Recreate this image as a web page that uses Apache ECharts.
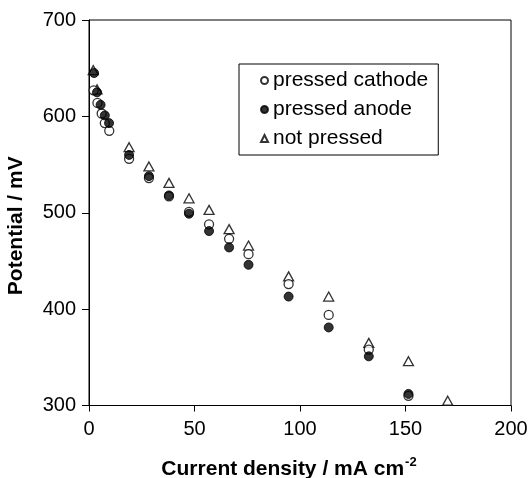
<!DOCTYPE html>
<html>
<head>
<meta charset="utf-8">
<script src="https://cdn.jsdelivr.net/npm/echarts@6/dist/echarts.min.js"></script>
<style>html,body{margin:0;padding:0;background:#fff}#c{width:528px;height:478px}</style>
</head>
<body>
<div id="c"></div>
<script>
var seriesNames = ['pressed cathode', 'pressed anode', 'not pressed'];
var xTicks = [0, 50, 100, 150, 200];
var yTicks = [300, 400, 500, 600, 700];

var cathodeX = [2.2, 4, 6, 7.5, 9.6, 19, 28.4, 37.9, 47.4, 56.9, 66.4, 75.6, 94.6, 113.6, 132.6, 151.4];
var cathodeY = [627, 614, 603, 593, 585, 556, 536, 517, 501, 488, 473, 457, 426, 394, 358, 310];
var anodeX = [2.4, 3.8, 5.5, 7.5, 9.5, 19, 28.4, 37.9, 47.4, 56.9, 66.4, 75.6, 94.6, 113.6, 132.6, 151.4];
var anodeY = [645, 625, 612, 601, 593, 560, 538, 518, 499, 481, 464, 446, 413, 381, 351, 312];
var notPressedX = [2, 3.8, 19, 28.4, 37.9, 47.4, 56.9, 66.4, 75.6, 94.6, 113.6, 132.6, 151.4, 170];
var notPressedY = [648, 628, 568, 548, 531, 515, 503, 483, 466, 434, 413, 365, 346, 305];

function pairs(xs, ys) { return xs.map(function (x, i) { return [x, ys[i]]; }); }

var FONT = 'Liberation Sans, Arial, sans-serif';
var chart = echarts.init(document.getElementById('c'), null, {renderer: 'canvas'});
chart.setOption({
  animation: false,
  backgroundColor: '#fff',
  grid: {left: 89, right: 17, top: 20, bottom: 72.5, show: true, borderColor: '#000', borderWidth: 1,
    containLabel: false, outerBoundsMode: 'none'},
  legend: {
    orient: 'vertical', left: 239, top: 64,
    padding: [6, 10, 6, 21], itemGap: 8, itemWidth: 7, itemHeight: 7, itemTextGap: 12,
    borderColor: '#000', borderWidth: 1,
    textStyle: {fontFamily: FONT, fontSize: 21, color: '#000'},
    data: seriesNames
  },
  xAxis: {
    type: 'value', min: xTicks[0], max: xTicks[xTicks.length - 1], interval: 50,
    axisLine: {lineStyle: {color: '#000', width: 1}},
    axisTick: {show: true, length: 6, lineStyle: {color: '#000'}},
    axisLabel: {fontFamily: FONT, fontSize: 20, color: '#000', margin: 14,
      formatter: function (v) { return xTicks.indexOf(v) >= 0 ? String(v) : ''; }},
    splitLine: {show: false},
    name: 'Current density / mA cm{sup|-2}', nameLocation: 'middle', nameGap: 50,
    nameTextStyle: {fontFamily: FONT, fontSize: 21, fontWeight: 'bold', color: '#000', padding: [0, 22, 0, 0],
      rich: {sup: {fontFamily: FONT, fontSize: 13, fontWeight: 'bold', color: '#000', padding: [0, 0, 14, 1]}}}
  },
  yAxis: {
    type: 'value', min: yTicks[0], max: yTicks[yTicks.length - 1], interval: 100,
    axisLine: {show: true, lineStyle: {color: '#000', width: 1}},
    axisTick: {show: true, length: 7, lineStyle: {color: '#000'}},
    axisLabel: {fontFamily: FONT, fontSize: 20, color: '#000', margin: 13},
    splitLine: {show: false},
    name: 'Potential / mV', nameLocation: 'middle', nameGap: 62, nameRotate: 90,
    nameTextStyle: {fontFamily: FONT, fontSize: 21, fontWeight: 'bold', color: '#000', padding: [0, 26, 0, 0]}
  },
  series: [
    {name: seriesNames[2], type: 'scatter', z: 2, symbol: 'triangle', symbolSize: [10, 9],
      itemStyle: {color: '#fff', borderColor: '#000', borderWidth: 1.3},
      data: pairs(notPressedX, notPressedY)},
    {name: seriesNames[0], type: 'scatter', z: 3, symbol: 'circle', symbolSize: 9,
      itemStyle: {color: '#fff', borderColor: '#000', borderWidth: 1.3},
      data: pairs(cathodeX, cathodeY)},
    {name: seriesNames[1], type: 'scatter', z: 4, symbol: 'circle', symbolSize: 9,
      itemStyle: {color: '#000', borderColor: '#000', borderWidth: 1},
      data: pairs(anodeX, anodeY)}
  ]
});
</script>
</body>
</html>
